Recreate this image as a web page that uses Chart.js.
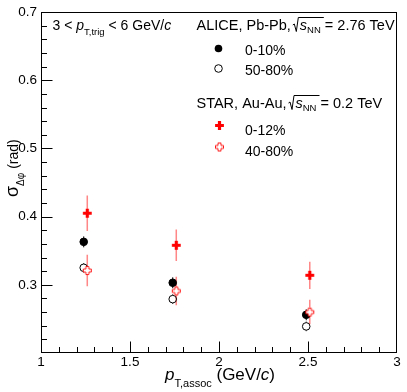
<!DOCTYPE html>
<html>
<head>
<meta charset="utf-8">
<script src="https://cdn.jsdelivr.net/npm/chart.js@4/dist/chart.umd.min.js"></script>
<style>
  html, body { margin: 0; padding: 0; background: #fff; }
  #wrap { width: 407px; height: 392px; position: relative; }
</style>
</head>
<body>
<div id="wrap"><canvas id="chart"></canvas></div>
<script>
// ─── data ───
const aliceX = [1.24, 1.74, 2.49];
const alice010 = [0.363, 0.303, 0.256];
const alice010Err = [0.008, 0.008, 0.008];
const alice5080 = [0.325, 0.279, 0.239];
const alice5080Err = [0.007, 0.007, 0.007];

const starX = [1.26, 1.76, 2.51];
const star012 = [0.405, 0.358, 0.314];
const star012Err = [0.026, 0.023, 0.020];
const star4080 = [0.321, 0.291, 0.260];
const star4080Err = [0.023, 0.021, 0.018];

const xRange = [1, 3];
const yRange = [0.2, 0.7];
const xMajor = 0.5, xMinor = 0.1;
const yMajor = 0.1, yMinor = 0.02;

const FONT = "'Liberation Sans', Arial, sans-serif";
const f = (size, italic) => (italic ? 'italic ' : '') + size + 'px ' + FONT;
const RED = '#ff0000';
const RED_ERR = 'rgba(255, 70, 70, 0.65)';

// ROOT style thick cross markers (filled / open)
function plusMarker(filled) {
    const s = 11, c = s / 2, t = filled ? 1.6 : 1.5, L = filled ? 4.4 : 4;
    const cv = document.createElement('canvas');
    cv.width = s; cv.height = s;
    const g = cv.getContext('2d');
    g.beginPath();
    const pts = [[c - t, c - L], [c + t, c - L], [c + t, c - t], [c + L, c - t], [c + L, c + t], [c + t, c + t],
                 [c + t, c + L], [c - t, c + L], [c - t, c + t], [c - L, c + t], [c - L, c - t], [c - t, c - t]];
    pts.forEach((p, i) => i ? g.lineTo(p[0], p[1]) : g.moveTo(p[0], p[1]));
    g.closePath();
    if (filled) {
        g.fillStyle = RED;
        g.fill();
    } else {
        g.fillStyle = '#fff';
        g.fill();
        g.strokeStyle = RED;
        g.lineWidth = 0.9;
        g.stroke();
    }
    return cv;
}
const plusFilled = plusMarker(true);
const plusOpen = plusMarker(false);

const toPts = (xs, ys) => xs.map((x, i) => ({ x, y: ys[i] }));

// ─── plugins ───
const errorBars = {
    id: 'errorBars',
    beforeDatasetsDraw(chart) {
        const ctx = chart.ctx;
        const yScale = chart.scales.y;
        chart.data.datasets.forEach((ds, di) => {
            if (!ds.errors) return;
            const meta = chart.getDatasetMeta(di);
            ctx.save();
            ctx.strokeStyle = ds.errColor;
            ctx.lineWidth = ds.errWidth;
            meta.data.forEach((pt, i) => {
                const v = ds.data[i].y;
                const top = yScale.getPixelForValue(v + ds.errors[i]);
                const bot = yScale.getPixelForValue(v - ds.errors[i]);
                const gap = ds.errGap || 0;
                ctx.beginPath();
                ctx.moveTo(pt.x, top);
                ctx.lineTo(pt.x, Math.min(pt.y - gap, bot));
                ctx.moveTo(pt.x, Math.max(pt.y + gap, top));
                ctx.lineTo(pt.x, bot);
                ctx.stroke();
            });
            ctx.restore();
        });
    }
};

function runs(ctx, x, y, parts) {
    parts.forEach(p => {
        ctx.font = p.font;
        ctx.fillText(p.t, x, y + (p.dy || 0));
        x += ctx.measureText(p.t).width + (p.dx || 0);
    });
    return x;
}

function sqrtSign(ctx, x, y, width) {
    ctx.save();
    ctx.strokeStyle = '#000';
    ctx.lineWidth = 1;
    ctx.beginPath();
    ctx.moveTo(x, y - 5);
    ctx.lineTo(x + 1.5, y - 6);
    ctx.lineTo(x + 3.5, y + 1.5);
    ctx.lineTo(x + 5.5, y - 12.5);
    ctx.lineTo(x + width, y - 12.5);
    ctx.stroke();
    ctx.restore();
    return x + 7;
}

const frameAndText = {
    id: 'frameAndText',
    afterDraw(chart) {
        const ctx = chart.ctx;
        const { left, right, top, bottom } = chart.chartArea;
        const xs = chart.scales.x, ys = chart.scales.y;
        ctx.save();
        ctx.strokeStyle = '#000';
        ctx.lineWidth = 1;
        const L = Math.round(left) + 0.5, R = Math.round(right) - 0.5;
        const T = Math.round(top) + 0.5, B = Math.round(bottom) - 0.5;
        ctx.strokeRect(L, T, R - L, B - T);

        // inward ticks, left and bottom only
        ctx.beginPath();
        const nx = Math.round((xRange[1] - xRange[0]) / xMinor);
        for (let i = 1; i < nx; i++) {
            const v = xRange[0] + i * xMinor;
            const major = Math.abs(v / xMajor - Math.round(v / xMajor)) < 1e-6;
            const px = Math.round(xs.getPixelForValue(v)) + 0.5;
            ctx.moveTo(px, B);
            ctx.lineTo(px, B - (major ? 11 : 5.5));
        }
        const ny = Math.round((yRange[1] - yRange[0]) / yMinor);
        for (let i = 1; i < ny; i++) {
            const v = yRange[0] + i * yMinor;
            const major = Math.abs(v / yMajor - Math.round(v / yMajor)) < 1e-6;
            const py = Math.round(ys.getPixelForValue(v)) + 0.5;
            ctx.moveTo(L, py);
            ctx.lineTo(L + (major ? 11 : 5.5), py);
        }
        ctx.stroke();

        ctx.fillStyle = '#000';
        ctx.textBaseline = 'alphabetic';
        ctx.textAlign = 'left';

        // trigger range
        runs(ctx, 52.5, 30, [
            { t: '3 < ', font: f(14) }, { t: 'p', font: f(14, true) },
            { t: 'T,trig', font: f(9.5), dy: 5 }, { t: ' < 6 GeV/', font: f(14) },
            { t: 'c', font: f(14, true) }
        ]);

        // ALICE header
        let x = runs(ctx, 196.5, 30, [{ t: 'ALICE, Pb-Pb, ', font: f(14.5) }]);
        x = sqrtSign(ctx, x - 2, 30, 31);
        runs(ctx, x, 30, [
            { t: 's', font: f(14.5, true) }, { t: 'NN', font: f(9.5), dy: 3 },
            { t: ' = 2.76 TeV', font: f(14.5) }
        ]);

        // STAR header
        x = runs(ctx, 196.5, 108, [{ t: 'STAR, Au-Au, ', font: f(14.5) }]);
        x = sqrtSign(ctx, x - 2, 108, 31);
        runs(ctx, x, 108, [
            { t: 's', font: f(14.5, true) }, { t: 'NN', font: f(9.5), dy: 3 },
            { t: ' = 0.2 TeV', font: f(14.5) }
        ]);

        // legend entries
        ctx.font = f(14);
        ctx.fillText('0-10%', 245, 55);
        ctx.fillText('50-80%', 245, 75);
        ctx.fillText('0-12%', 245, 134.5);
        ctx.fillText('40-80%', 245, 156);

        ctx.beginPath();
        ctx.arc(218.5, 48.5, 3.8, 0, Math.PI * 2);
        ctx.fill();
        ctx.beginPath();
        ctx.arc(218.5, 68.5, 3.8, 0, Math.PI * 2);
        ctx.stroke();
        ctx.drawImage(plusFilled, 219.5 - 5.5, 125.5 - 5.5);
        ctx.drawImage(plusOpen, 219.5 - 5.5, 147 - 5.5);

        // x title
        runs(ctx, 165, 380, [
            { t: 'p', font: f(17, true) }, { t: 'T,assoc', font: f(11), dy: 7 },
            { t: ' (GeV/', font: f(17) }, { t: 'c', font: f(17, true) }, { t: ')', font: f(17) }
        ]);

        // y title (rotated)
        ctx.translate(18, 197);
        ctx.rotate(-Math.PI / 2);
        runs(ctx, 0, 0, [
            { t: 'σ', font: f(18) }, { t: 'Δφ', font: f(10), dy: 6 },
            { t: ' (rad)', font: f(14) }
        ]);
        ctx.restore();
    }
};

// ─── chart ───
Chart.defaults.font.family = FONT;
Chart.defaults.color = '#000';

new Chart(document.getElementById('chart'), {
    type: 'scatter',
    data: {
        datasets: [
            {
                label: 'STAR 0-12%', data: toPts(starX, star012), errors: star012Err,
                errColor: RED_ERR, errWidth: 1.5, pointStyle: plusFilled
            },
            {
                label: 'STAR 40-80%', data: toPts(starX, star4080), errors: star4080Err,
                errColor: RED_ERR, errWidth: 1.5, errGap: 4.5, pointStyle: plusOpen
            },
            {
                label: 'ALICE 0-10%', data: toPts(aliceX, alice010), errors: alice010Err,
                errColor: '#000', errWidth: 1, pointStyle: 'circle', pointRadius: 3.8,
                backgroundColor: '#000', borderColor: '#000', borderWidth: 1
            },
            {
                label: 'ALICE 50-80%', data: toPts(aliceX, alice5080), errors: alice5080Err,
                errColor: '#000', errWidth: 1, errGap: 4, pointStyle: 'circle', pointRadius: 3.8,
                backgroundColor: 'rgba(0,0,0,0)', borderColor: '#000', borderWidth: 1
            }
        ]
    },
    options: {
        responsive: true,
        maintainAspectRatio: false,
        animation: false,
        layout: { padding: { top: 7, right: 10, left: 0, bottom: 0 } },
        plugins: { legend: { display: false }, tooltip: { enabled: false } },
        elements: { point: { radius: 4, hoverRadius: 4 } },
        scales: {
            x: {
                type: 'linear', min: xRange[0], max: xRange[1],
                grid: { display: false, drawTicks: false },
                border: { display: false },
                ticks: {
                    stepSize: xMajor, padding: 1, font: { size: 13.5 }, color: '#000', maxRotation: 0,
                    callback: (v) => String(Number(v.toFixed(1)))
                },
                afterFit: (s) => { s.height = 39; }
            },
            y: {
                type: 'linear', min: yRange[0], max: yRange[1],
                grid: { display: false, drawTicks: false },
                border: { display: false },
                ticks: {
                    stepSize: yMajor, padding: 4, font: { size: 13.5 }, color: '#000',
                    callback: (v) => v < 0.25 ? '' : v.toFixed(1)
                },
                afterFit: (s) => { s.width = 41; }
            }
        }
    },
    plugins: [errorBars, frameAndText]
});
</script>
</body>
</html>
